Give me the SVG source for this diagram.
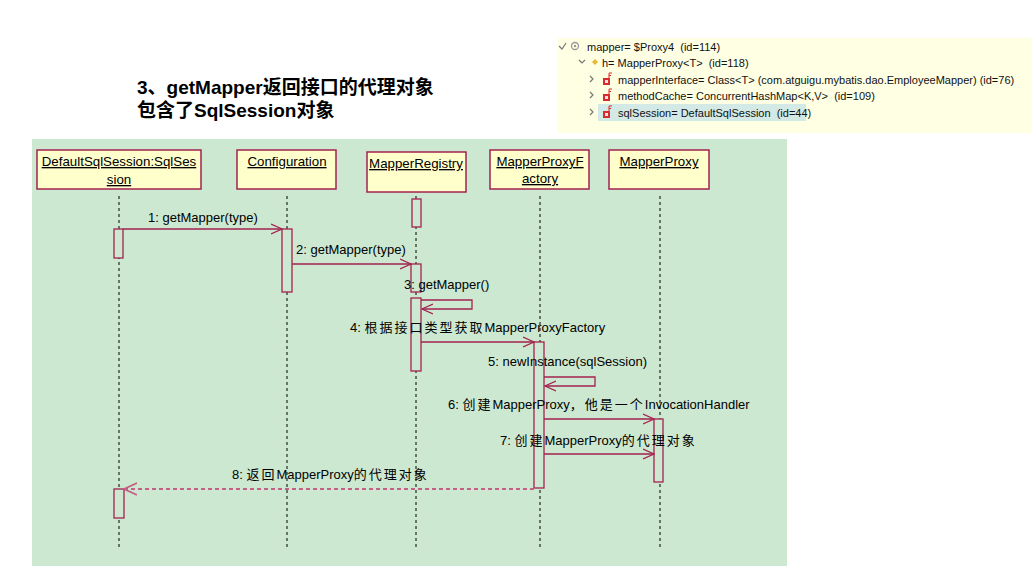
<svg xmlns="http://www.w3.org/2000/svg" width="1032" height="583" viewBox="0 0 1032 583">
<defs>
<style>
.bg{fill:#cde8d0}
.box{fill:#ffffcc;stroke:#a3224f;stroke-width:1.5}
.act{fill:#cde8d0;stroke:#a3224f;stroke-width:1.3}
.life{stroke:#000;stroke-width:1;stroke-dasharray:3,3;fill:none}
.msg{stroke:#a3224f;stroke-width:1.3;fill:none;marker-end:url(#arr)}
.ret{stroke:#c45f86;stroke-width:2;stroke-dasharray:4,3;fill:none;marker-end:url(#arr2)}
.nt{font-family:"Liberation Sans","Noto Sans CJK SC",sans-serif;font-size:13.3px;fill:#000;text-anchor:middle;text-decoration:underline}
.lb{font-family:"Liberation Sans","Noto Sans CJK SC",sans-serif;font-size:13px;fill:#000}
.cj{letter-spacing:2px}
.ttl{font-family:"Liberation Sans","Noto Sans CJK SC",sans-serif;font-size:19px;font-weight:bold;fill:#000}
.dbg{font-family:"Liberation Sans","Noto Sans CJK SC",sans-serif;font-size:11px;fill:#111;white-space:pre}
.chev{stroke:#777;stroke-width:1.2;fill:none}
</style>
<marker id="arr" markerWidth="12" markerHeight="12" refX="11" refY="6" orient="auto" markerUnits="userSpaceOnUse">
<path d="M0,1 L11,6 L0,11" fill="none" stroke="#a3224f" stroke-width="1.3"/>
</marker>
<marker id="arr2" markerWidth="14" markerHeight="14" refX="13" refY="7" orient="auto" markerUnits="userSpaceOnUse">
<path d="M0,1 L13,7 L0,13" fill="none" stroke="#c45f86" stroke-width="1.8"/>
</marker>
</defs>
<rect width="1032" height="583" fill="#ffffff"/>

<g id="title">
<text class="ttl" x="137" y="94">3、getMapper返回接口的代理对象</text>
<text class="ttl" x="137" y="117">包含了SqlSession对象</text>
</g>

<g id="debug-panel">
<rect x="558" y="38" width="474" height="95" fill="#ffffe4"/>
<rect x="598" y="104" width="208" height="17" fill="#d3e9e6"/>
<polyline class="chev" points="559,46 562,49 566,43"/>
<circle cx="575" cy="46" r="3.5" fill="none" stroke="#999" stroke-width="1.3"/>
<circle cx="575" cy="46" r="1.2" fill="#999"/>
<text class="dbg" x="587" y="51" xml:space="preserve">mapper= $Proxy4  (id=114)</text>
<polyline class="chev" points="579,60 582,63 585,60"/>
<polygon points="595,59 598,62 595,65 592,62" fill="#e8b830"/>
<text class="dbg" x="602" y="67" xml:space="preserve">h= MapperProxy&lt;T&gt;  (id=118)</text>
<g id="row3">
<polyline class="chev" points="590,76 593,79 590,82"/>
<rect x="603" y="78" width="7" height="7" fill="#d92b2b"/>
<rect x="605" y="80" width="3" height="3" fill="#ffe0e0"/>
<path d="M609,73 V78 M609,73 H612 M609,75.5 H611" stroke="#d92b2b" stroke-width="1" fill="none"/>
<text class="dbg" x="618" y="84" xml:space="preserve">mapperInterface= Class&lt;T&gt; (com.atguigu.mybatis.dao.EmployeeMapper) (id=76)</text>
</g>
<g id="row4">
<polyline class="chev" points="590,92 593,95 590,98"/>
<rect x="603" y="94" width="7" height="7" fill="#d92b2b"/>
<rect x="605" y="96" width="3" height="3" fill="#ffe0e0"/>
<path d="M609,89 V94 M609,89 H612 M609,91.5 H611" stroke="#d92b2b" stroke-width="1" fill="none"/>
<text class="dbg" x="618" y="100" xml:space="preserve">methodCache= ConcurrentHashMap&lt;K,V&gt;  (id=109)</text>
</g>
<g id="row5">
<polyline class="chev" points="590,109 593,112 590,115"/>
<rect x="603" y="111" width="7" height="7" fill="#d92b2b"/>
<rect x="605" y="113" width="3" height="3" fill="#ffe0e0"/>
<path d="M609,106 V111 M609,106 H612 M609,108.5 H611" stroke="#d92b2b" stroke-width="1" fill="none"/>
<text class="dbg" x="618" y="117" xml:space="preserve">sqlSession= DefaultSqlSession  (id=44)</text>
</g>
</g>

<rect class="bg" x="32" y="139" width="755" height="427"/>

<g id="lifelines">
<line class="life" x1="119" y1="196" x2="119" y2="548"/>
<line class="life" x1="287" y1="196" x2="287" y2="548"/>
<line class="life" x1="416" y1="196" x2="416" y2="548"/>
<line class="life" x1="540" y1="196" x2="540" y2="548"/>
<line class="life" x1="660" y1="196" x2="660" y2="548"/>
</g>

<g id="DefaultSqlSession">
<rect class="box" x="37" y="150" width="164" height="39"/>
<text class="nt" x="119" y="166">DefaultSqlSession:SqlSes</text>
<text class="nt" x="119" y="184">sion</text>
<rect class="act" x="114" y="229" width="9" height="29"/>
<rect class="act" x="114" y="489" width="10" height="29"/>
</g>

<g id="Configuration">
<rect class="box" x="237" y="150" width="99" height="39"/>
<text class="nt" x="287" y="166">Configuration</text>
<rect class="act" x="282" y="229" width="10" height="63"/>
</g>

<g id="MapperRegistry">
<rect class="box" x="367" y="152" width="99" height="40"/>
<text class="nt" x="416" y="168">MapperRegistry</text>
<rect class="act" x="412" y="199" width="9" height="28"/>
<rect class="act" x="411" y="264" width="10" height="28"/>
<rect class="act" x="411" y="298" width="10" height="73"/>
</g>

<g id="MapperProxyFactory">
<rect class="box" x="490" y="150" width="99" height="39"/>
<text class="nt" x="540" y="166">MapperProxyF</text>
<text class="nt" x="540" y="183">actory</text>
<rect class="act" x="534" y="342" width="10" height="146"/>
</g>

<g id="MapperProxy">
<rect class="box" x="609" y="150" width="100" height="39"/>
<text class="nt" x="659" y="166">MapperProxy</text>
<rect class="act" x="654" y="419" width="9" height="63"/>
</g>

<g id="connectors">
<line class="msg" x1="123" y1="229" x2="282" y2="229"/>
<line class="msg" x1="292" y1="264" x2="411" y2="264"/>
<polyline class="msg" points="421,300 472,300 472,309 422,309"/>
<line class="msg" x1="421" y1="342" x2="534" y2="342"/>
<polyline class="msg" points="544,377 595,377 595,386 545,386"/>
<line class="msg" x1="544" y1="419" x2="654" y2="419"/>
<line class="msg" x1="544" y1="454" x2="654" y2="454"/>
<line class="ret" x1="534" y1="489" x2="124" y2="489"/>
</g>

<g id="labels">
<text class="lb" x="148" y="222">1: getMapper(type)</text>
<text class="lb" x="296" y="254">2: getMapper(type)</text>
<text class="lb" x="404" y="289">3: getMapper()</text>
<text class="lb" x="350" y="332">4: <tspan class="cj">根据接口类型获取</tspan>MapperProxyFactory</text>
<text class="lb" x="488" y="366">5: newInstance(sqlSession)</text>
<text class="lb" x="448" y="409">6: <tspan class="cj">创建</tspan>MapperProxy<tspan class="cj">，他是一个</tspan>InvocationHandler</text>
<text class="lb" x="500" y="445">7: <tspan class="cj">创建</tspan>MapperProxy<tspan class="cj">的代理对象</tspan></text>
<text class="lb" x="232" y="479">8: <tspan class="cj">返回</tspan>MapperProxy<tspan class="cj">的代理对象</tspan></text>
</g>
</svg>
